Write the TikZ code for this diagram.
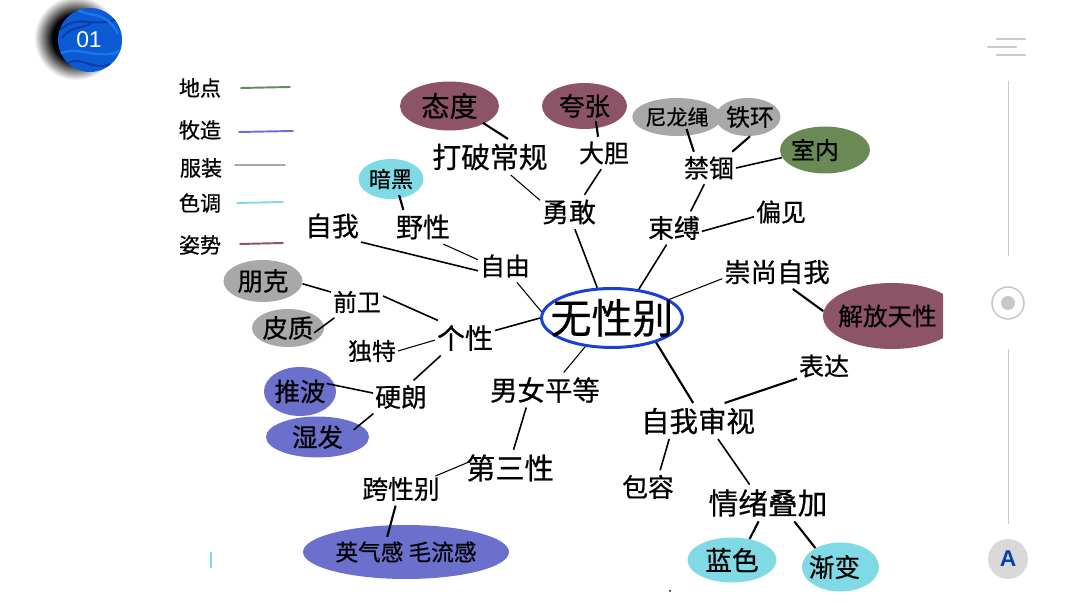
\documentclass[tikz,border=0pt]{standalone}
\usepackage{fontspec}
\setmainfont{Noto Sans CJK SC}[FakeBold=0.6]
\newfontfamily\latinfont{Liberation Sans}
\usetikzlibrary{shapes.geometric}
\definecolor{posecol}{HTML}{8D5467}
\definecolor{placecol}{HTML}{6A8A55}
\definecolor{makeupcol}{HTML}{6A70CB}
\definecolor{wearcol}{HTML}{A8A8A8}
\definecolor{tonecol}{HTML}{80DAE6}
\definecolor{iconcol}{HTML}{C8C8C8}
\definecolor{badgecol}{HTML}{0B5BD3}
\definecolor{swirldark}{HTML}{0A3FA8}
\definecolor{swirllight}{HTML}{1E74EE}
\definecolor{corecol}{HTML}{1A3FD4}
\pgfdeclareradialshading{halo}{\pgfpointorigin}{color(0bp)=(black); color(14bp)=(black); color(25bp)=(white); color(50bp)=(white)}
\begin{document}
\begin{tikzpicture}[
		x=0.02cm, y=-0.02cm,
		word/.style={
			inner xsep=1pt,
			inner ysep=2.5pt,
			text=black,
			font=\fontsize{#1}{#1}\selectfont
		},
		oval/.style={
			ellipse,
			inner sep=0pt,
			text=black
		},
		line/.style={draw, line width=0.6pt, black},
		mid/.style={draw, line width=0.9pt, black},
		heavy/.style={draw, line width=1.2pt, black},
		startin/.style={shorten <=-#1pt},
		endin/.style={shorten >=-#1pt},
		swatch/.style={line width=1.1pt, line cap=round},
		bar/.style={line width=1.3pt, iconcol, line cap=round}
		]
		\useasboundingbox (0,0) rectangle (1080,607);
		
		% Page badge
		\shade[shading=halo] (76,38) circle (42);
		\begin{scope}
			\clip (90,40) circle (32);
			\fill[badgecol] (50,0) rectangle (130,80);
			\draw[swirldark, line width=1.2pt] (60,30) .. controls (80,12) and (92,30) .. (120,18);
			\draw[swirldark, line width=1.2pt] (62,38) .. controls (72,24) and (84,30) .. (92,22);
			\draw[swirldark, line width=1.2pt] (66,66) .. controls (76,52) and (92,72) .. (110,64);
			\draw[swirllight, line width=1.4pt] (60,54) .. controls (76,44) and (100,62) .. (122,50);
			\draw[swirllight, line width=1.4pt] (78,10) .. controls (92,18) and (106,10) .. (118,34);
		\end{scope}
		\node[text=white, inner sep=0pt, font=\latinfont\fontsize{13}{13}\selectfont] (badge) at (89,40) {01};
		
		% Legend
		\node[word=12] (leg1) at (200,88) {地点};
		\node[word=12] (leg2) at (200,130) {牧造};
		\node[word=12] (leg3) at (201,168) {服装};
		\node[word=12] (leg4) at (200,203) {色调};
		\node[word=12] (leg5) at (200,245) {姿势};
		\draw[swatch, placecol] (241,88) -- (290,87);
		\draw[swatch, makeupcol] (239,132) -- (293,131);
		\draw[swatch, wearcol] (235,165) -- (285,165);
		\draw[swatch, tonecol] (237,203) -- (283,202);
		\draw[swatch, posecol] (240,244) -- (283,243);
		
		% Centre
		\node[oval, draw=corecol, line width=1.7pt, inner xsep=-6.6pt, inner ysep=-2pt, minimum width=2.8cm, minimum height=1.18cm, font=\fontsize{23.3}{23.3}\selectfont] (core) at (612,318) {无性别};
		
		% Upper branches
		\node[oval, fill=posecol, minimum width=1.98cm, minimum height=0.98cm, font=\fontsize{16}{16}\selectfont] (attitude) at (449.5,106) {态度};
		\node[oval, fill=posecol, minimum width=1.7cm, minimum height=0.92cm, font=\fontsize{14.5}{14.5}\selectfont] (exagg) at (584.5,106) {夸张};
		\node[word=16.4] (breaking) at (490,157) {打破常规};
		\node[word=14.2] (bold) at (604,153) {大胆};
		\node[word=15.3] (brave) at (569,212) {勇敢};
		\node[oval, fill=tonecol, minimum width=1.3cm, minimum height=0.8cm, font=\fontsize{12.5}{12.5}\selectfont] (dark) at (391,179) {暗黑};
		\node[word=15.3] (wild) at (423,227) {野性};
		\node[word=15.3] (self) at (332,226) {自我};
		\node[word=14.2] (free) at (505,266) {自由};
		\node[oval, fill=wearcol, minimum width=1.68cm, minimum height=0.76cm, font=\fontsize{12}{12}\selectfont] (nylon) at (677,117) {尼龙绳};
		\node[oval, fill=wearcol, inner xsep=-2pt, minimum width=1.3cm, minimum height=0.76cm, font=\fontsize{13.6}{13.6}\selectfont] (iron) at (748,117) {\hspace{0.08cm}铁环};
		\node[oval, fill=placecol, minimum width=1.8cm, minimum height=0.94cm, font=\fontsize{13.6}{13.6}\selectfont] (indoor) at (825,150) {\hspace{-0.4cm}室内};
		\node[word=14.2] (confine) at (709,168) {禁锢};
		\node[word=14.7] (bind) at (674,228) {束缚};
		\node[word=14.2] (bias) at (781,212) {偏见};
		\node[word=15] (worship) at (777,272) {崇尚自我};
		\begin{scope}
			\clip (800,270) rectangle (943,360);
			\node[oval, fill=posecol, minimum width=2.76cm, minimum height=1.32cm, font=\fontsize{14}{14}\selectfont] (release) at (892,316) {\hspace{-0.18cm}解放天性};
		\end{scope}
		
		% Left branches
		\node[oval, fill=wearcol, minimum width=1.58cm, minimum height=0.84cm, font=\fontsize{14.5}{14.5}\selectfont] (punk) at (263,281) {朋克};
		\node[oval, fill=wearcol, minimum width=1.42cm, minimum height=0.76cm, font=\fontsize{14.5}{14.5}\selectfont] (leather) at (288,328) {皮质};
		\node[word=13.6] (avant) at (357,302) {前卫};
		\node[word=15.9] (indiv) at (465,338) {个性};
		\node[word=13.6] (unique) at (372,351) {独特};
		\node[word=14.7] (tough) at (401,397) {硬朗};
		\node[oval, fill=makeupcol, minimum width=1.4cm, minimum height=0.98cm, font=\fontsize{14.5}{14.5}\selectfont] (wave) at (300,391.5) {推波};
		\node[oval, fill=makeupcol, minimum width=2.06cm, minimum height=0.82cm, font=\fontsize{14.5}{14.5}\selectfont] (wet) at (317.5,437) {湿发};
		
		% Lower branches
		\node[word=15.6] (equal) at (545,390) {男女平等};
		\node[word=16.6] (third) at (510,468) {第三性};
		\node[word=14.7] (trans) at (401,489) {跨性别};
		\node[oval, fill=makeupcol, minimum width=4.12cm, minimum height=1.08cm, font=\fontsize{12.9}{12.9}\selectfont] (brow) at (406,552) {英气感 毛流感};
		\node[word=16.2] (review) at (698,421) {自我审视};
		\node[word=14.2] (express) at (824,366) {表达};
		\node[word=14.7] (tolerate) at (648,487) {包容};
		\node[word=16.9] (mood) at (768,503) {情绪叠加};
		\node[oval, fill=tonecol, minimum width=1.78cm, minimum height=0.9cm, font=\fontsize{15.2}{15.2}\selectfont] (blue) at (732,560) {蓝色};
		\node[oval, fill=tonecol, minimum width=1.54cm, minimum height=0.98cm, font=\fontsize{14.6}{14.6}\selectfont] (fade) at (840.5,567) {\hspace{-0.24cm}渐变};
		
		% Structure lines
		\draw[heavy, startin=1] (attitude.-27) -- (breaking.45);
		\draw[line] (breaking.-41) -- (brave.158);
		\draw[heavy, startin=4] (exagg.-61) -- (bold.110);
		\draw[mid] (bold.-100) -- (brave.48);
		\draw[mid] (brave.-71) -- (core.116);
		\draw[heavy, startin=2] (dark.-65) -- (wild.139);
		\draw[line] (wild.-40) -- (free.167);
		\draw[mid] (self.-29) -- (free.190);
		\draw[line] (free.-54) -- (core.175);
		\draw[heavy, startin=4] (nylon.-58) -- (confine.133);
		\draw[heavy] (iron.-84) -- (confine.35);
		\draw[mid] (indoor.190) -- (confine.0);
		\draw[mid] (confine.-106) -- (bind.45);
		\draw[mid] (bias.190) -- (bind.-7);
		\draw[mid] (bind.-114) -- (core.47);
		\draw[line] (worship.187) -- (core.18);
		\draw[heavy] (worship.-47) -- (release.176);
		\draw[mid] (punk.-4) -- (avant.159);
		\draw[mid, startin=7] (leather.4) -- (avant.215);
		\draw[mid] (avant.13) -- (indiv.147);
		\draw[line] (unique.0) -- (indiv.184);
		\draw[mid] (tough.53) -- (indiv.216);
		\draw[mid] (indiv.14) -- (core.180);
		\draw[mid, startin=5] (wave.10) -- (tough.172);
		\draw[mid, startin=4.5] (wet.16) -- (tough.211);
		\draw[line] (core.227) -- (equal.43);
		\draw[mid] (equal.223) -- (third.79);
		\draw[line, startin=3, endin=4] (third.175) -- (trans.21);
		\draw[heavy, endin=7] (trans.252) -- (brow.120);
		\draw[heavy] (core.-29) -- (review.105);
		\draw[heavy] (express.205) -- (review.34);
		\draw[mid] (review.212) -- (tolerate.54);
		\draw[mid] (review.-42) -- (mood.135);
		\draw[heavy] (mood.-117) -- (blue.50);
		\draw[heavy] (mood.-35) -- (fade.143);
		
		% Side controls
		\draw[bar] (997,39) -- (1025,39);
		\draw[bar] (988,47) -- (1016,47);
		\draw[bar] (997,55) -- (1025,55);
		\draw[iconcol, line width=0.5pt] (1008,81) -- (1008,256);
		\draw[iconcol, line width=0.5pt] (1008,349) -- (1008,524);
		\draw[iconcol, line width=0.9pt] (1008,303) circle (16);
		\fill[iconcol] (1008,303) circle (7);
		\node[circle, fill=gray!30, minimum size=0.8cm, inner sep=0pt, text=swirldark, font=\latinfont\bfseries\fontsize{13}{13}\selectfont] (mode) at (1008,559) {A};
		
		% Stray marks
		\draw[tonecol, line width=0.8pt] (211,552) -- (211,568);
		\fill[black] (670,591) circle (1);
	\end{tikzpicture}
\end{document}
